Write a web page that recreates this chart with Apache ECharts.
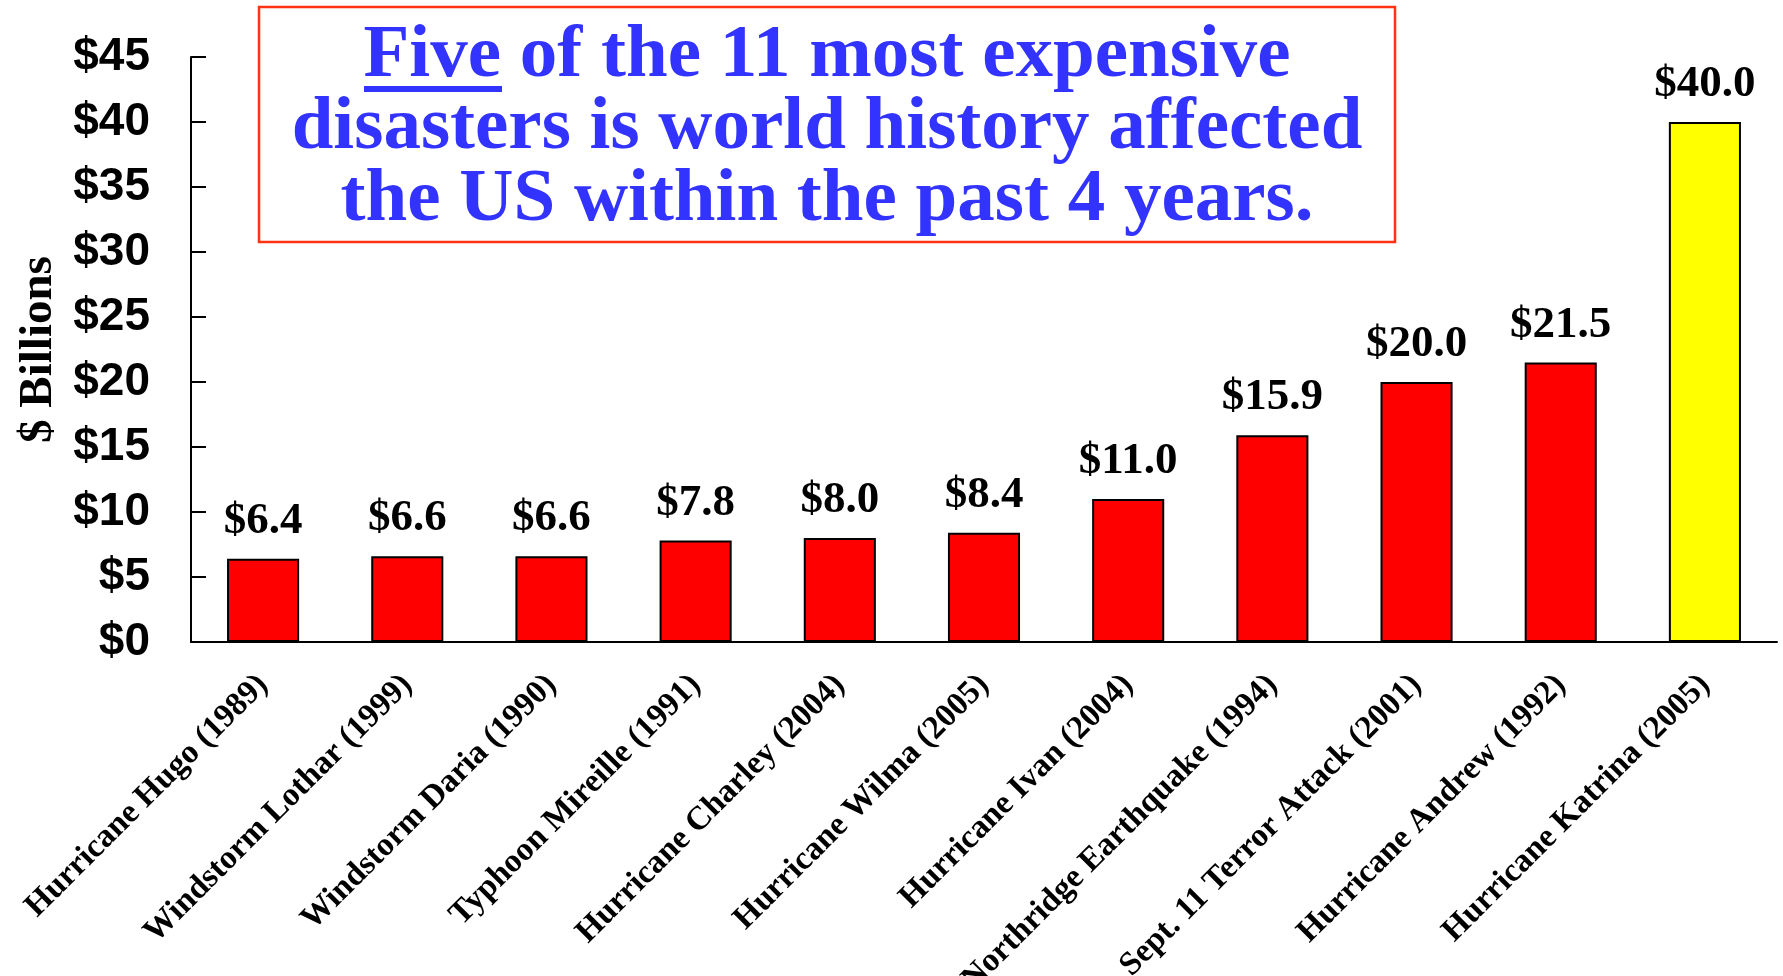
<!doctype html>
<meta charset="utf-8">
<style>
  html, body {
    margin: 0;
    height: 100%;
    background: #fff;
  }

  #chart {
    width: 1783px;
    height: 976px;
  }
</style>
<script src="https://cdn.jsdelivr.net/npm/echarts@6/dist/echarts.min.js"></script>

<div id="chart"></div>

<script>
  const disasters = [
    'Hurricane Hugo (1989)',
    'Windstorm Lothar (1999)',
    'Windstorm Daria (1990)',
    'Typhoon Mireille (1991)',
    'Hurricane Charley (2004)',
    'Hurricane Wilma (2005)',
    'Hurricane Ivan (2004)',
    'Northridge Earthquake (1994)',
    'Sept. 11 Terror Attack (2001)',
    'Hurricane Andrew (1992)',
    'Hurricane Katrina (2005)',
  ]
  const costBillions = [6.4, 6.6, 6.6, 7.8, 8.0, 8.4, 11.0, 15.9, 20.0, 21.5, 40.0]
  const titleLines = [
    'Five of the 11 most expensive',
    'disasters is world history affected',
    'the US within the past 4 years.',
  ]

  const serif = '"Liberation Serif", "Times New Roman", serif'
  const sans = '"Liberation Sans", Arial, sans-serif'
  const titleBlue = '#3333ff'
  const titleCx = 827

  let chart = echarts.init(document.getElementById('chart'))

  chart.setOption({
    animation: false,
    grid: {
      left: 191,
      right: 6,
      top: 57,
      bottom: 334,
      containLabel: false,
      outerBoundsMode: 'none',
    },
    xAxis: {
      type: 'category',
      data: disasters,
      axisLine: {
        lineStyle: { color: '#000', width: 2 },
      },
      axisTick: {
        inside: true,
        length: 10,
        lineStyle: { color: '#000', width: 2 },
      },
      axisLabel: {
        interval: 0,
        rotate: 45,
        margin: 38,
        color: '#000',
        fontFamily: serif,
        fontWeight: 'bold',
        fontSize: 33,
      },
    },
    yAxis: {
      type: 'value',
      min: 0,
      max: 45,
      interval: 5,
      name: '$ Billions',
      nameLocation: 'middle',
      nameGap: 126,
      nameRotate: 90,
      nameTextStyle: {
        color: '#000',
        fontFamily: serif,
        fontWeight: 'bold',
        fontSize: 47,
      },
      axisLine: {
        show: true,
        lineStyle: { color: '#000', width: 2 },
      },
      axisTick: {
        show: true,
        inside: true,
        length: 15,
        lineStyle: { color: '#000', width: 2 },
      },
      splitLine: { show: false },
      axisLabel: {
        margin: 41,
        color: '#000',
        fontFamily: sans,
        fontWeight: 'bold',
        fontSize: 46,
        formatter: v => '$' + v,
      },
    },
    series: {
      type: 'bar',
      data: costBillions,
      barWidth: '50%',
      itemStyle: {
        color: p => p.dataIndex === costBillions.length - 1 ? '#ffff00' : '#ff0000',
        borderColor: '#000',
        borderWidth: 2,
      },
      label: {
        show: true,
        position: 'top',
        distance: 15,
        color: '#000',
        fontFamily: serif,
        fontWeight: 'bold',
        fontSize: 45,
        formatter: p => '$' + p.value.toFixed(1),
      },
    },
    graphic: [
      {
        type: 'rect',
        shape: { x: 259, y: 7, width: 1136, height: 235 },
        style: { fill: '#fff', stroke: '#ff3311', lineWidth: 2.5 },
      },
      ...titleLines.map((line, i) => ({
        type: 'text',
        x: titleCx,
        y: 57 + i * 72,
        style: {
          text: line,
          fill: titleBlue,
          font: 'bold 75px ' + serif,
          textAlign: 'center',
          textVerticalAlign: 'middle',
        },
      })),
      {
        // underline under "Five"
        type: 'rect',
        shape: { x: 364, y: 86, width: 138, height: 6 },
        style: { fill: titleBlue },
      },
    ],
  })
</script>
